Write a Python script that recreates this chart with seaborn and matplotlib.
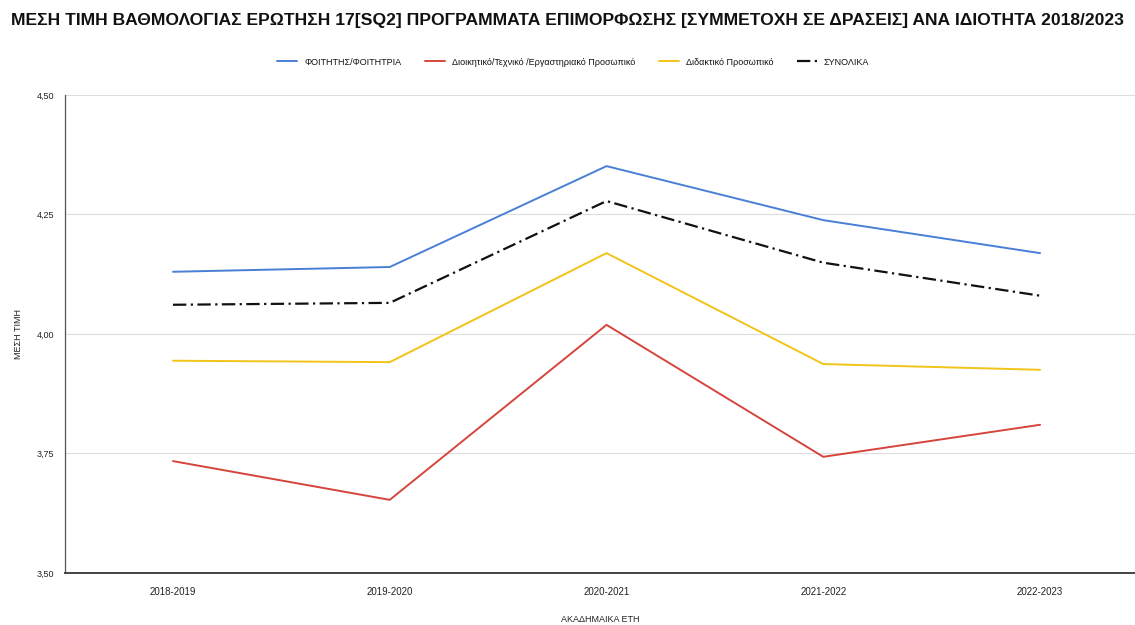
import numpy as np
import pandas as pd
import seaborn as sns
import matplotlib.pyplot as plt

sns.set_theme(style="white")
plt.rcParams['font.family'] = ['Liberation Sans', 'DejaVu Sans']
plt.rcParams['text.color'] = '#111111'
plt.rcParams['axes.labelcolor'] = '#222222'
plt.rcParams['xtick.color'] = '#222222'
plt.rcParams['ytick.color'] = '#222222'

# academic years and mean scores per group
years = ['2018-2019', '2019-2020', '2020-2021', '2021-2022', '2022-2023']
students = [4.130, 4.140, 4.351, 4.238, 4.169]
admin_staff = [3.734, 3.653, 4.019, 3.743, 3.810]
teaching_staff = [3.944, 3.941, 4.169, 3.937, 3.925]
overall = [4.061, 4.065, 4.278, 4.149, 4.080]

groups = ['ΦΟΙΤΗΤΗΣ/ΦΟΙΤΗΤΡΙΑ',
          'Διοικητικό/Τεχνικό /Εργαστηριακό Προσωπικό',
          'Διδακτικό Προσωπικό',
          'ΣΥΝΟΛΙΚΑ']
y_ticks = [3.50, 3.75, 4.00, 4.25, 4.50]

df = pd.concat([
    pd.DataFrame({'year': years, 'value': vals, 'group': g})
    for g, vals in zip(groups, [students, admin_staff, teaching_staff, overall])
])
df['pos'] = df['year'].map({y: i for i, y in enumerate(years)})

palette = dict(zip(groups, ['#4a7fd6', '#d6453d', '#f2c318', '#111111']))
dashes = dict(zip(groups, ['', '', '', (6, 2, 1, 2)]))
widths = dict(zip(groups, [1.4, 1.4, 1.4, 1.6]))

fig = plt.figure(figsize=(11.35, 6.25), dpi=100)
ax = fig.add_axes([0.0573, 0.0832, 0.9427, 0.765])

for g in groups:
    sub = df[df['group'] == g]
    sns.lineplot(data=sub, x='pos', y='value', color=palette[g],
                 dashes=False, lw=widths[g], ax=ax, label=g)
    if dashes[g]:
        ax.lines[-1].set_dashes(dashes[g])

ax.set_xlim(-0.498, 4.438)
ax.set_ylim(3.5, 4.5)
ax.set_xticks(range(len(years)))
ax.set_xticklabels(years, fontsize=7)
ax.set_yticks(y_ticks)
ax.set_yticklabels([f'{v:.2f}'.replace('.', ',') for v in y_ticks], fontsize=6.5)
ax.tick_params(axis='x', length=6, width=0.8, color='#444444', pad=7, direction='inout')
ax.tick_params(axis='y', length=0, pad=8)
ax.grid(axis='y', color='#dddddd', lw=0.8)
ax.set_axisbelow(True)
for s in ['top', 'right']:
    ax.spines[s].set_visible(False)
ax.spines['left'].set_color('#555555')
ax.spines['bottom'].set_color('#444444')
ax.spines['bottom'].set_linewidth(1.4)
ax.spines['left'].set_linewidth(0.9)

ax.set_xlabel('ΑΚΑΔΗΜΑΙΚΑ ΕΤΗ', fontsize=6.5, labelpad=13)
ax.set_ylabel('ΜΕΣΗ ΤΙΜΗ', fontsize=6.5, labelpad=10)

ax.legend(loc='upper center', bbox_to_anchor=(0.475, 1.095), ncol=4,
          frameon=False, fontsize=6.5, handlelength=2.2, columnspacing=2.6)

fig.text(0.5, 0.967, 'ΜΕΣΗ ΤΙΜΗ ΒΑΘΜΟΛΟΓΙΑΣ ΕΡΩΤΗΣΗ 17[SQ2] ΠΡΟΓΡΑΜΜΑΤΑ ΕΠΙΜΟΡΦΩΣΗΣ '
         '[ΣΥΜΜΕΤΟΧΗ ΣΕ ΔΡΑΣΕΙΣ] ΑΝΑ ΙΔΙΟΤΗΤΑ 2018/2023',
         ha='center', va='center', fontsize=12.6, fontweight='bold')

fig.savefig('out.png', dpi=100)
